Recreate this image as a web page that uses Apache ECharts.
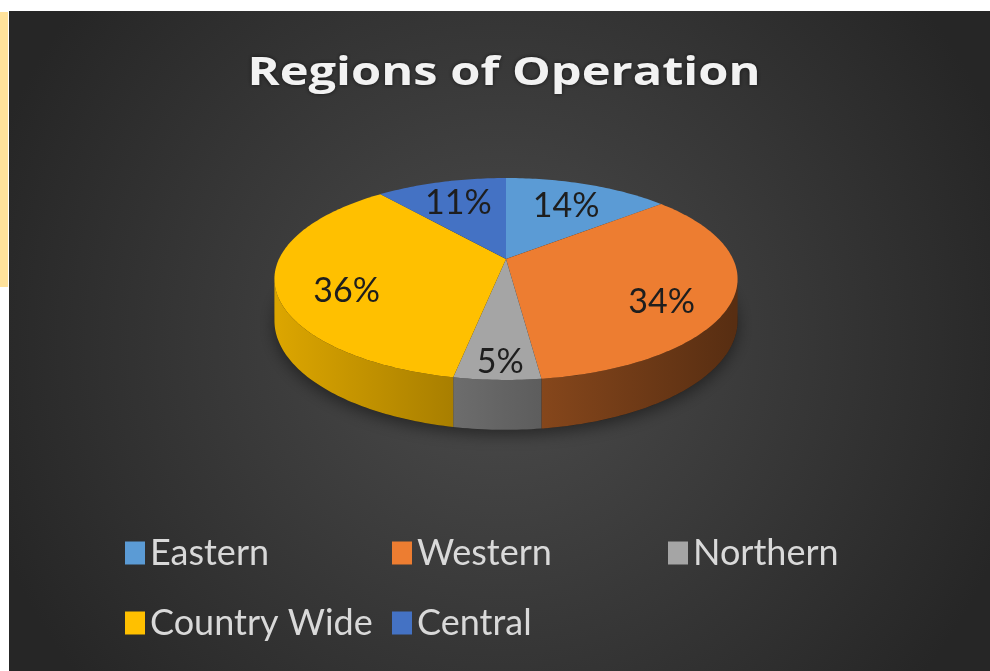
<!DOCTYPE html>
<html>
<head>
<meta charset="utf-8">
<script src="https://cdn.jsdelivr.net/npm/echarts@6/dist/echarts.min.js"></script>
<style>
  html, body { margin: 0; background: #fff; }
  #chart { width: 990px; height: 671px; }
</style>
</head>
<body>
<div id="chart"></div>
<script>
// regions and their share of operations (%)
const regions = ['Eastern', 'Western', 'Northern', 'Country Wide', 'Central'];
const shares = [14, 34, 5, 36, 11];
const sliceColors = ['#5B9BD5', '#ED7D31', '#A5A5A5', '#FFC000', '#4472C4'];
const chartTitle = 'Regions of Operation';

const total = shares.reduce((a, b) => a + b, 0);
const offsets = shares.map((v, i) => shares.slice(0, i).reduce((a, b) => a + b, 0));

// tilted disc with a bit of perspective, like the Excel 3-D pie
const CX = 506, CY = 259, RX = 227, RY = 97, PERSP = 0.198, DEPTH = 40;

function project(deg, f, down) {
  const t = deg * Math.PI / 180;
  const c = Math.cos(t), s = Math.sin(t);
  const k = 1 / (1 + PERSP * f * c);
  return [CX + RX * f * s * k, CY - RY * f * c * k + (down || 0) * k];
}

function rimPoints(a0, a1, down) {
  const pts = [];
  for (let a = a0; a < a1; a += 1) pts.push(project(a, 1, down));
  pts.push(project(a1, 1, down));
  return pts;
}

function shade(hex, f) {
  const n = parseInt(hex.slice(1), 16);
  const r = Math.round(((n >> 16) & 255) * f);
  const g = Math.round(((n >> 8) & 255) * f);
  const b = Math.round((n & 255) * f);
  return 'rgb(' + r + ',' + g + ',' + b + ')';
}

function renderSlice(params, api) {
  const val = api.value(0), off = api.value(1);
  const a0 = off / total * 360, a1 = (off + val) / total * 360;
  const color = api.visual('color');
  const children = [];

  // top face
  children.push({
    type: 'polygon', z2: 10,
    shape: { points: [[CX, CY]].concat(rimPoints(a0, a1, 0)) },
    style: { fill: color }
  });

  // front wall, only the part facing the viewer
  const lim = Math.acos(-PERSP) * 180 / Math.PI;
  const b0 = Math.max(a0, lim), b1 = Math.min(a1, 360 - lim);
  if (b1 > b0) {
    const top = rimPoints(b0, b1, 0);
    const bot = rimPoints(b0, b1, DEPTH).reverse();
    children.push({
      type: 'polygon', z2: 5,
      shape: { points: top.concat(bot) },
      style: {
        fill: {
          type: 'linear', global: true,
          x: CX - RX, y: 0, x2: CX + RX, y2: 0,
          colorStops: [
            { offset: 0, color: shade(color, 0.86) },
            { offset: 0.5, color: shade(color, 0.6) },
            { offset: 1, color: shade(color, 0.37) }
          ]
        }
      }
    });
  }

  // percentage label
  const mid = (a0 + a1) / 2;
  const p = project(mid, 0.7, 0);
  p[1] += 12 * (1 - Math.cos(mid * Math.PI / 180));
  children.push({
    type: 'text', z2: 20, x: p[0], y: p[1],
    style: {
      text: Math.round(val / total * 100) + '%',
      fill: '#1e1e1e', font: '34px Lato',
      align: 'center', verticalAlign: 'middle'
    }
  });

  return { type: 'group', children: children };
}

function renderShadow() {
  return {
    type: 'polygon', z2: 1,
    shape: { points: rimPoints(0, 360, DEPTH) },
    style: {
      fill: 'rgba(20,20,20,0.6)',
      shadowBlur: 16, shadowColor: 'rgba(0,0,0,0.75)', shadowOffsetY: 5
    }
  };
}

const series = regions.map((name, i) => ({
  type: 'custom',
  name: name,
  coordinateSystem: 'none',
  itemStyle: { color: sliceColors[i] },
  data: [[shares[i], offsets[i]]],
  renderItem: renderSlice
}));
series.unshift({
  type: 'custom', name: 'base', coordinateSystem: 'none', silent: true,
  data: [[0]], renderItem: renderShadow
});

const legendText = { color: '#d9d9d9', fontSize: 36, fontFamily: 'Lato', lineHeight: 40 };
function legendColumn(names, left) {
  return {
    data: names, left: left, top: 528, orient: 'vertical',
    icon: 'rect', itemWidth: 20, itemHeight: 23, itemGap: 30,
    textStyle: legendText, selectedMode: false
  };
}

const chart = echarts.init(document.getElementById('chart'));
chart.setOption({
  animation: false,
  graphic: [
    {
      type: 'rect', z: -10, silent: true,
      shape: { x: 9, y: 11, width: 981, height: 660 },
      style: {
        fill: {
          type: 'radial', global: true, x: 500, y: 340, r: 540,
          colorStops: [
            { offset: 0, color: '#4c4c4c' },
            { offset: 1, color: '#262626' }
          ]
        }
      }
    },
    {
      type: 'rect', z: -10, silent: true,
      shape: { x: 0, y: 12, width: 8, height: 275 },
      style: { fill: '#FFE29B' }
    },
    {
      // Excel draws the title with wide letter spacing, so stretch it a little
      type: 'text', silent: true, x: 504, y: 74, scaleX: 1.22,
      style: {
        text: chartTitle,
        fill: '#f2f2f2', font: 'bold 40px "Open Sans"',
        align: 'center', verticalAlign: 'middle',
        textShadowBlur: 4, textShadowColor: 'rgba(0,0,0,0.6)'
      }
    }
  ],
  legend: [
    legendColumn(['Eastern', 'Country Wide'], 120),
    legendColumn(['Western', 'Central'], 387),
    legendColumn(['Northern'], 663)
  ],
  series: series
});
</script>
</body>
</html>
